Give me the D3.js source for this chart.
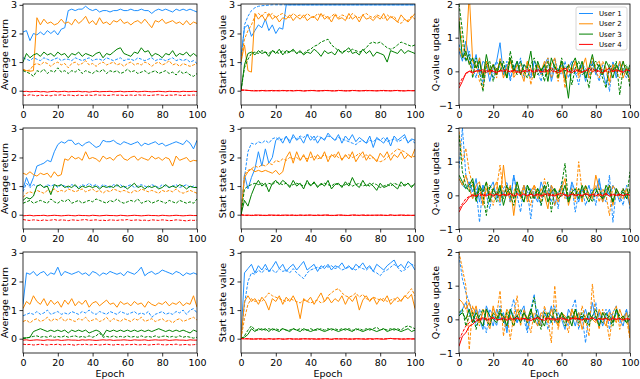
<!DOCTYPE html>
<html>
<head>
<meta charset="utf-8">
<script src="https://cdn.jsdelivr.net/npm/d3@7"></script>
<style>
body { margin: 0; background: #fff; }
text { font-family: "DejaVu Sans", sans-serif; }
</style>
</head>
<body>
<div id="chart"></div>
<script>
// epochs sampled every 2
var epochs = [0,2,4,6,8,10,12,14,16,18, 20,22,24,26,28,30,32,34,36,38, 40,42,44,46,48,50,52,54,56,58, 60,62,64,66,68,70,72,74,76,78, 80,82,84,86,88,90,92,94,96,98, 100];
var users = ['User 1', 'User 2', 'User 3', 'User 4'];
var userColors = ['#1e90ff', '#ff8c00', '#008000', '#ff0000'];

// ---- row 1 : average return ----
var ret1_u1 = [2.05,2.1,1.75,2.0,1.95,2.05,1.95,2.1,2.0,2.1, 1.95,2.15,2.2,2.8,2.85,2.8,2.85,2.85,2.95,2.85, 2.8,2.85,2.75,2.8,2.8,2.75,2.8,2.8,2.85,2.8, 2.8,2.85,2.8,2.8,2.85,2.8,2.8,2.7,2.8,2.85, 2.8,2.85,2.8,2.75,2.85,2.8,2.85,2.8,2.85,2.8, 2.75];
var ret1_u1d = [1.15,1.1,1.05,1.15,1.1,1.05,1.15,1.1,1.05,1.1, 1.15,1.05,1.1,1.1,1.05,1.15,1.1,1.05,1.1,1.15, 1.05,1.1,1.1,1.05,1.15,1.1,1.05,1.1,1.15,1.05, 1.1,1.1,1.05,1.15,1.1,1.05,1.1,1.15,1.05,1.1, 1.1,1.05,1.1,1.15,1.05,1.1,1.05,1.1,1.0,1.05, 0.95];
var ret1_u2 = [0.72,0.7,0.68,0.7,2.55,2.3,2.5,2.35,2.4,2.3, 2.35,2.5,2.35,2.4,2.3,2.5,2.35,2.45,2.6,2.35, 2.45,2.3,2.55,2.35,2.4,2.3,2.45,2.4,2.5,2.35, 2.4,2.3,2.4,2.45,2.35,2.5,2.35,2.2,2.45,2.4, 2.5,2.35,2.4,2.45,2.35,2.4,2.3,2.45,2.3,2.4, 2.35];
var ret1_u2d = [0.75,0.7,0.72,0.9,0.95,0.9,1.0,0.95,0.85,0.95, 1.0,0.9,0.95,0.8,0.95,1.0,0.9,0.95,1.05,0.9, 0.95,0.85,0.95,1.0,0.9,0.95,1.0,0.9,0.95,0.85, 0.95,1.0,0.9,0.95,0.9,1.0,0.95,0.85,0.95,1.0, 0.9,0.95,1.05,0.9,0.95,0.85,0.95,0.9,0.85,0.9, 0.95];
var ret1_u3 = [1.0,1.3,1.15,1.25,1.3,1.2,1.35,1.25,1.3,1.2, 1.35,1.25,1.3,1.15,1.3,1.25,1.35,1.2,1.3,1.25, 1.2,1.3,1.35,1.15,1.3,1.25,1.35,1.45,1.5,1.3, 1.25,1.2,1.35,1.3,1.5,1.35,1.4,1.2,1.3,1.25, 1.15,1.3,1.25,1.4,1.2,1.3,1.25,1.35,1.2,1.3, 1.2];
var ret1_u3d = [0.7,0.65,0.6,0.5,0.7,0.65,0.75,0.6,0.7,0.65, 0.8,0.65,0.7,0.6,0.7,0.65,0.75,0.6,0.7,0.65, 0.6,0.7,0.65,0.75,0.6,0.7,0.65,0.7,0.6,0.65, 0.75,0.65,0.7,0.6,0.65,0.7,0.6,0.65,0.7,0.6, 0.65,0.7,0.6,0.65,0.55,0.7,0.6,0.65,0.55,0.5, 0.6];
var ret1_u4 = [-0.03,-0.02,-0.04,-0.03,-0.02,-0.04,-0.03,-0.05,-0.03,-0.02, -0.04,-0.03,-0.02,-0.04,-0.03,-0.03,-0.02,-0.04,-0.03,-0.05, -0.03,-0.02,-0.04,-0.03,-0.03,-0.02,-0.04,-0.03,-0.02,-0.04, -0.03,-0.03,-0.02,-0.04,-0.03,-0.02,-0.03,-0.04,-0.03,-0.02, -0.03,-0.04,-0.02,-0.03,-0.03,-0.04,-0.02,-0.03,-0.03,-0.02, -0.03];
var ret1_u4d = [-0.15,-0.17,-0.14,-0.16,-0.18,-0.15,-0.17,-0.16,-0.18,-0.15, -0.16,-0.14,-0.17,-0.15,-0.16,-0.18,-0.15,-0.17,-0.16,-0.15, -0.17,-0.14,-0.16,-0.15,-0.17,-0.16,-0.14,-0.16,-0.15,-0.17, -0.16,-0.15,-0.17,-0.14,-0.16,-0.15,-0.17,-0.16,-0.15,-0.14, -0.16,-0.17,-0.15,-0.16,-0.14,-0.16,-0.17,-0.15,-0.16,-0.15, -0.16];

// ---- row 1 : start state value ----
var sv1_u1 = [1.2,2.2,2.3,1.9,2.1,2.3,2.2,2.5,2.1,2.3, 2.0,2.2,2.15,3.0,3.0,3.0,3.0,3.0,3.0,3.0, 3.0,3.0,3.0,3.0,3.0,3.0,3.0,3.0,3.0,3.0, 3.0,3.0,3.0,3.0,3.0,3.0,3.0,3.0,3.0,3.0, 3.0,3.0,3.0,3.0,3.0,3.0,3.0,3.0,3.0,3.0, 3.0];
var sv1_u1d = [0.9,2.3,2.6,2.8,2.9,2.95,2.97,2.98,2.99,3.0, 3.0,3.0,3.0,3.0,3.0,3.0,3.0,3.0,3.0,3.0, 3.0,3.0,3.0,3.0,3.0,3.0,3.0,3.0,3.0,3.0, 3.0,3.0,3.0,3.0,3.0,3.0,3.0,3.0,3.0,3.0, 3.0,3.0,3.0,3.0,3.0,3.0,3.0,3.0,3.0,3.0, 3.0];
var sv1_u2 = [1.0,1.6,0.7,0.65,2.7,2.5,2.65,2.45,2.7,2.5, 2.6,2.4,2.55,2.5,2.65,2.45,2.6,2.5,2.65,2.45, 2.55,2.6,2.45,2.7,2.5,2.6,2.4,2.65,2.5,2.55, 2.45,2.7,2.5,2.6,2.4,2.65,2.5,2.55,2.45,2.6, 2.5,2.7,2.45,2.6,2.5,2.4,2.65,2.5,2.4,2.55, 2.7];
var sv1_u2d = [1.1,1.8,2.1,2.3,2.6,2.7,2.6,2.75,2.6,2.7, 2.55,2.65,2.7,2.6,2.55,2.7,2.6,2.65,2.55,2.7, 2.6,2.55,2.7,2.6,2.65,2.5,2.6,2.7,2.55,2.65, 2.6,2.5,2.7,2.6,2.55,2.65,2.7,2.6,2.55,2.65, 2.6,2.5,2.65,2.55,2.6,2.4,2.35,2.5,2.45,2.6, 2.5];
var sv1_u3 = [0.0,0.9,1.3,1.35,1.25,1.4,1.3,1.35,1.2,1.4, 1.3,1.45,1.25,1.4,1.35,1.45,1.3,1.4,1.25,1.35, 1.3,1.45,1.35,1.2,1.4,1.3,1.35,1.25,1.45,1.3, 1.4,1.5,1.3,1.35,1.25,1.45,1.3,1.4,1.2,1.35, 1.3,1.25,1.0,1.4,1.35,1.3,1.45,1.3,1.4,1.35, 1.3];
var sv1_u3d = [0.0,0.8,1.1,1.3,1.35,1.3,1.4,1.35,1.3,1.4, 1.35,1.3,1.4,1.3,1.35,1.4,1.3,1.35,1.3,1.4, 1.45,1.55,1.6,1.7,1.75,1.8,1.6,1.5,1.4,1.35, 1.4,1.35,1.45,1.4,1.35,1.4,1.5,1.65,1.7,1.65, 1.7,1.6,1.5,1.45,1.5,1.6,1.7,1.65,1.6,1.55, 1.6];
var sv1_u4 = [0.03,0.02,0.01,0.0,-0.01,0.0,0.01,-0.01,0.0,0.01, 0.0,-0.01,0.01,0.0,0.0,-0.01,0.01,0.0,-0.01,0.0, 0.01,0.0,-0.01,0.0,0.01,0.0,0.0,-0.01,0.01,0.0, -0.01,0.0,0.01,0.0,-0.01,0.0,0.01,0.0,0.0,-0.01, 0.0,0.01,0.0,-0.01,0.0,0.01,0.0,-0.01,0.0,0.0, 0.0];
var sv1_u4d = [0.01,0.02,0.01,0.0,0.01,-0.01,0.0,0.01,0.0,-0.01, 0.0,0.01,0.0,-0.01,0.01,0.0,0.0,0.01,-0.01,0.0, 0.0,0.01,0.0,-0.01,0.0,0.01,-0.01,0.0,0.0,0.01, 0.0,-0.01,0.0,0.01,0.0,0.0,-0.01,0.01,0.0,0.0, 0.01,-0.01,0.0,0.0,0.01,0.0,-0.01,0.0,0.01,0.0, 0.0];

// ---- row 1 : Q-value update ----
var q1_u1 = [0.6,0.3,0.9,0.4,0.1,0.5,-0.1,0.3,0.2,-0.3, 0.1,0.3,0.85,-0.1,0.2,-0.2,0.1,0.3,-0.1,0.2, 0.0,-0.2,0.3,0.1,-0.1,0.2,0.4,-0.3,0.1,0.0, 0.2,-0.2,0.1,0.3,-0.1,0.0,0.2,-0.3,0.1,0.3, -0.1,0.2,0.0,-0.4,0.1,0.2,-0.2,0.3,0.0,0.1, -0.1];
var q1_u1d = [0.8,0.5,0.3,0.6,0.1,-0.2,0.4,-0.4,0.2,0.0, -0.2,0.3,0.1,-0.1,0.3,-0.3,0.2,0.0,0.4,-0.2, 0.1,-0.1,0.3,0.0,-0.3,0.2,0.1,-0.2,0.4,0.0, -0.1,0.3,-0.2,0.1,0.0,-0.4,0.2,0.1,-0.2,0.3, 0.0,-0.3,0.2,0.1,-0.6,0.3,-0.1,0.2,0.0,-0.2, 0.1];
var q1_u2 = [0.7,0.4,0.5,2.3,0.3,0.1,0.4,-0.2,0.3,-0.1, 0.2,0.0,0.3,-0.2,0.1,0.4,-0.1,0.2,0.0,-0.3, 0.3,0.1,-0.2,0.2,0.0,0.3,-0.1,0.2,0.4,-0.2, 0.1,-0.3,0.2,0.0,0.3,-0.1,0.1,0.4,-0.2,0.0, 0.2,0.3,-0.1,0.1,-0.3,0.2,0.0,0.3,-0.2,0.1, -0.3];
var q1_u2d = [1.6,0.8,0.4,0.3,-0.1,0.2,-0.3,-0.5,0.3,0.0, 0.2,-0.2,0.4,0.1,-0.1,0.3,-0.2,0.0,0.2,-0.1, 0.3,-0.4,0.1,0.2,-0.1,0.0,0.4,-0.2,0.1,-0.3, 0.3,-0.5,0.2,0.0,0.3,-0.2,0.1,0.0,-0.1,0.4, 0.0,-0.2,0.3,0.1,-0.4,0.2,0.0,-0.2,0.3,0.0, 0.1];
var q1_u3 = [1.5,0.4,0.6,0.2,0.4,0.1,0.3,-0.2,0.5,0.0, 0.2,-0.1,0.3,0.1,-0.2,0.4,0.0,0.3,-0.1,0.2, 0.1,0.6,-0.2,0.3,0.0,0.2,-0.3,0.4,0.1,0.0, 0.3,-0.1,-0.8,0.2,0.4,0.0,0.3,-0.2,0.1,0.5, 0.0,0.2,-0.1,0.3,0.1,-0.2,0.2,0.0,0.3,-0.1, 0.2];
var q1_u3d = [2.0,1.2,0.3,0.5,-0.2,0.4,0.0,-0.6,0.2,0.3, -0.3,0.1,0.0,0.3,-0.2,0.6,0.1,-0.1,0.3,0.0, -0.2,0.2,0.4,-0.1,0.1,-0.3,0.3,0.0,0.2,-0.2, 0.4,0.0,0.2,-0.4,0.1,0.3,-0.1,0.0,-0.5,0.2, 0.3,0.1,-0.2,-0.5,0.2,0.0,0.3,-0.7,0.1,0.2, -0.5];
var q1_u4 = [-0.5,-0.3,-0.05,0.0,-0.05,0.02,0.0,0.05,-0.03,0.02, 0.0,-0.05,0.03,0.0,0.05,-0.02,0.03,0.0,-0.05,0.02, 0.0,0.04,-0.03,0.05,0.0,-0.02,0.03,0.1,0.0,-0.04, 0.02,0.1,0.0,-0.05,0.05,0.0,-0.03,0.02,0.1,-0.02, 0.05,0.0,-0.05,0.03,0.1,-0.02,0.05,0.0,-0.03,0.05, 0.0];
var q1_u4d = [-0.4,-0.2,-0.1,0.02,-0.02,0.0,0.04,-0.03,0.02,0.0, 0.03,-0.02,0.0,0.05,-0.03,0.02,0.0,-0.04,0.03,0.0, 0.05,-0.02,0.02,0.0,-0.03,0.06,0.0,0.02,-0.02,0.04, 0.0,0.08,-0.03,0.02,0.0,0.05,-0.02,0.03,0.0,0.1, -0.03,0.02,0.06,0.0,-0.02,0.04,0.0,0.03,-0.02,0.05, 0.02];

// ---- row 2 : average return ----
var ret2_u1 = [0.9,1.3,1.0,1.3,1.7,1.75,1.8,1.9,1.85,2.2, 2.45,2.55,2.5,2.6,2.6,2.45,2.5,2.4,2.5,2.55, 2.45,2.35,2.4,2.6,2.55,2.55,2.6,2.5,2.45,2.55, 2.5,2.45,2.5,2.55,2.4,2.5,2.45,2.5,2.55,2.45, 2.5,2.4,2.45,2.5,2.55,2.5,2.45,2.6,2.5,2.3, 2.6];
var ret2_u1d = [0.8,1.1,0.95,1.05,1.0,1.05,0.95,1.05,1.0,1.05, 0.95,1.05,1.0,0.95,1.05,1.0,0.95,1.05,1.0,1.1, 1.0,1.05,0.95,1.05,1.0,0.95,1.05,1.0,1.05,0.95, 1.0,1.05,0.95,1.0,1.05,1.0,0.95,1.05,1.0,0.95, 1.05,1.0,0.95,1.0,1.05,0.95,1.0,1.05,0.95,1.0, 0.95];
var ret2_u2 = [1.45,1.4,1.5,1.4,1.35,1.45,1.4,1.45,1.3,1.5, 1.35,1.4,1.95,1.9,2.05,1.95,2.0,1.9,2.2,1.95, 2.0,1.95,1.85,2.05,1.95,2.0,1.9,2.05,2.1,1.95, 1.9,2.0,2.05,1.9,2.0,1.95,1.9,2.05,1.95,2.0, 1.9,2.0,1.95,1.7,2.05,1.9,1.95,2.0,1.85,1.9, 1.88];
var ret2_u2d = [0.6,0.75,0.8,0.75,0.85,0.8,0.75,0.85,0.8,0.9, 0.8,0.85,0.8,0.9,0.85,0.8,0.85,0.9,0.8,0.85, 0.9,0.8,0.85,0.75,0.85,0.8,0.9,0.85,0.8,0.85, 0.8,0.75,0.85,0.8,0.9,0.85,0.8,0.85,0.8,0.75, 0.85,0.8,0.85,0.8,0.9,0.8,0.75,0.8,0.85,0.8, 0.75];
var ret2_u3 = [0.5,0.6,0.55,0.65,1.0,1.05,0.95,1.0,0.7,1.05, 1.0,1.05,0.95,1.0,0.95,1.05,0.9,1.0,0.95,1.0, 0.95,1.0,0.9,1.0,0.95,1.0,0.95,1.05,0.95,1.0, 0.9,1.0,1.1,0.95,1.0,0.9,1.0,0.95,1.0,0.9, 0.95,1.05,0.95,1.0,0.95,1.05,1.0,0.9,1.0,0.95, 0.95];
var ret2_u3d = [0.4,0.45,0.5,0.4,0.45,0.5,0.45,0.4,0.55,0.45, 0.4,0.5,0.45,0.55,0.4,0.45,0.5,0.4,0.45,0.5, 0.45,0.55,0.5,0.45,0.4,0.5,0.45,0.55,0.45,0.4, 0.45,0.5,0.45,0.55,0.4,0.45,0.5,0.4,0.45,0.5, 0.45,0.4,0.5,0.45,0.4,0.5,0.45,0.4,0.45,0.4, 0.55];
var ret2_u4 = [-0.04,-0.03,-0.02,-0.04,-0.03,-0.03,-0.02,-0.04,-0.03,-0.02, -0.03,-0.04,-0.03,-0.02,-0.03,-0.04,-0.02,-0.03,-0.03,-0.04, -0.02,-0.03,-0.04,-0.03,-0.02,-0.03,-0.03,-0.04,-0.02,-0.03, -0.04,-0.03,-0.02,-0.03,-0.04,-0.03,-0.02,-0.03,-0.03,-0.04, -0.02,-0.03,-0.04,-0.03,-0.02,-0.03,-0.04,-0.03,-0.02,-0.03, -0.03];
var ret2_u4d = [-0.17,-0.19,-0.2,-0.18,-0.19,-0.21,-0.18,-0.2,-0.19,-0.17, -0.2,-0.18,-0.19,-0.21,-0.18,-0.19,-0.2,-0.18,-0.17,-0.2, -0.19,-0.18,-0.2,-0.19,-0.21,-0.18,-0.19,-0.2,-0.18,-0.19, -0.17,-0.2,-0.19,-0.18,-0.2,-0.19,-0.21,-0.18,-0.19,-0.2, -0.18,-0.19,-0.21,-0.2,-0.18,-0.19,-0.2,-0.22,-0.19,-0.2, -0.19];

// ---- row 2 : start state value ----
var sv2_u1 = [0.0,1.4,0.9,1.3,1.6,2.2,1.7,2.3,1.8,2.0, 2.6,2.7,2.5,2.75,2.5,2.8,2.6,2.7,2.5,2.8, 2.6,2.75,2.5,2.7,2.6,2.85,2.7,2.6,2.8,2.5, 2.75,2.6,2.8,2.55,2.7,2.6,2.5,2.75,2.35,2.7, 2.6,2.5,2.7,2.4,2.75,2.6,2.7,2.8,2.5,2.65, 2.6];
var sv2_u1d = [0.0,1.3,2.2,2.5,2.45,2.55,2.5,2.6,2.5,2.65, 2.7,2.6,2.65,2.7,2.6,2.7,2.65,2.75,2.7,2.8, 2.75,2.6,2.75,2.7,2.65,2.75,2.7,2.6,2.7,2.65, 2.6,2.55,2.5,2.45,2.55,2.6,2.5,2.6,2.55,2.65, 2.6,2.7,2.55,2.6,2.65,2.55,2.6,2.7,2.55,2.6, 2.5];
var sv2_u2 = [0.0,1.3,1.5,1.6,1.5,1.55,1.5,1.55,1.5,1.45, 1.55,1.4,1.5,2.0,2.2,1.8,2.2,1.9,2.1,1.85, 2.2,1.9,2.1,1.95,2.2,1.85,2.1,2.0,2.2,1.9, 2.1,1.95,2.2,1.85,2.05,2.2,1.9,2.1,2.0,1.85, 2.15,2.0,2.2,1.9,2.1,2.0,2.2,1.95,2.1,2.0, 2.3];
var sv2_u2d = [0.0,1.4,1.55,1.6,1.7,1.65,1.75,1.7,1.8,1.75, 1.9,1.85,1.95,1.9,2.0,1.95,2.0,1.9,2.05,1.95, 2.0,2.05,1.95,2.0,2.1,2.0,2.05,2.1,2.0,1.95, 2.05,2.1,2.0,2.05,2.15,2.0,2.1,1.95,2.0,1.9, 1.85,1.9,2.0,2.1,2.2,2.3,2.25,2.2,2.1,2.0, 2.05];
var sv2_u3 = [0.0,0.5,0.3,0.7,1.0,1.2,1.0,1.1,0.8,1.1, 1.2,1.05,1.2,1.1,0.95,1.2,1.0,1.1,0.9,1.2, 1.0,1.15,0.95,1.1,1.0,1.2,0.9,1.05,1.1,0.95, 1.15,1.0,1.3,1.05,0.95,1.2,1.0,1.1,1.0,0.85, 1.1,0.95,1.0,1.1,1.0,0.9,1.15,1.0,1.1,0.95, 1.1];
var sv2_u3d = [0.0,0.9,1.0,1.05,1.1,1.05,1.1,1.0,1.1,1.05, 1.15,1.1,1.05,1.1,1.0,1.05,1.1,1.05,1.0,1.1, 1.05,1.1,1.0,1.05,1.1,1.05,1.0,1.1,1.05,1.0, 1.05,1.1,1.0,1.05,1.1,1.0,1.05,1.0,1.1,1.05, 0.95,1.0,1.05,1.0,1.1,1.05,1.0,1.05,1.1,1.0, 1.05];
var sv2_u4 = [-0.01,-0.02,-0.01,-0.03,-0.02,-0.01,-0.02,-0.03,-0.02,-0.01, -0.02,-0.03,-0.02,-0.01,-0.02,-0.02,-0.03,-0.01,-0.02,-0.02, -0.01,-0.03,-0.02,-0.02,-0.01,-0.02,-0.03,-0.02,-0.01,-0.02, -0.02,-0.03,-0.01,-0.02,-0.02,-0.01,-0.03,-0.02,-0.02,-0.01, -0.02,-0.02,-0.03,-0.01,-0.02,-0.02,-0.01,-0.03,-0.02,-0.02, -0.02];
var sv2_u4d = [0.0,-0.02,-0.03,-0.02,-0.01,-0.03,-0.02,-0.02,-0.01,-0.03, -0.02,-0.01,-0.02,-0.03,-0.02,-0.01,-0.02,-0.02,-0.03,-0.01, -0.02,-0.02,-0.01,-0.03,-0.02,-0.01,-0.02,-0.03,-0.02,-0.01, -0.03,-0.02,-0.02,-0.01,-0.03,-0.02,-0.01,-0.02,-0.02,-0.03, -0.01,-0.02,-0.02,-0.01,-0.03,-0.02,-0.02,-0.01,-0.02,-0.03, -0.02];

// ---- row 2 : Q-value update ----
var q2_u1 = [0.5,0.3,0.2,0.4,0.1,0.5,-0.2,0.3,0.0,0.2, 0.4,-0.1,0.2,0.0,0.3,-0.2,0.6,0.1,0.0,0.3, -0.1,0.2,0.0,-0.2,0.4,0.1,0.0,0.3,-0.3,0.1, 0.2,0.0,-0.1,0.4,0.1,-0.2,0.2,0.0,0.3,-0.1, 0.1,0.5,-0.2,0.2,0.0,0.3,0.1,-0.2,0.2,0.0, -0.3];
var q2_u1d = [0.8,2.0,0.6,0.3,-0.1,0.2,-0.8,0.3,0.0,-0.4, 0.2,0.1,-0.3,0.2,0.4,-0.2,0.6,0.0,-0.5,0.3, 0.1,-0.7,0.2,0.0,-0.3,0.3,0.1,-0.2,0.2,-0.4, 0.4,0.0,-0.2,0.3,-0.5,0.1,0.2,-0.3,0.0,0.2, -0.3,0.4,0.0,-0.2,0.6,-0.8,0.2,0.0,-0.3,0.3, -0.4];
var q2_u2 = [0.5,0.3,0.6,0.2,-0.1,0.3,0.4,-0.3,0.2,0.0, 0.2,0.4,-0.2,0.9,0.0,0.3,-0.6,0.2,0.0,0.3, -0.2,0.1,0.3,-0.1,0.2,0.0,-0.4,0.3,0.1,-0.2, 0.2,0.5,-0.3,0.1,0.0,0.2,-0.2,0.3,0.0,-0.1, 0.6,0.2,-0.2,0.1,0.3,-0.3,0.2,0.0,-0.1,0.2, -0.3];
var q2_u2d = [1.9,1.0,1.4,0.7,0.3,0.0,0.2,-0.2,0.4,0.1, -0.3,0.2,0.9,0.0,0.3,-0.2,0.1,0.4,-0.1,0.2, 0.0,-0.3,0.3,0.1,-0.2,0.5,0.0,0.2,-0.3,0.1, 0.3,-0.1,0.0,0.2,-0.2,1.0,0.1,0.2,-0.1,0.0, 0.3,-0.2,0.2,0.0,-0.6,0.3,0.1,-0.1,0.2,0.0, 0.1];
var q2_u3 = [0.6,0.4,0.2,0.3,0.5,-0.1,0.3,0.1,0.4,-0.2, 0.2,0.0,0.3,-0.3,0.1,0.2,-0.1,0.4,0.0,-0.2, 0.3,0.1,-0.1,0.2,0.0,0.3,-0.2,0.1,0.2,-0.1, 0.0,0.3,-0.2,0.1,0.2,-0.1,0.3,0.0,-0.2,0.1, 0.2,0.0,-0.1,0.3,0.1,-0.2,0.2,0.0,0.1,-0.1, 0.2];
var q2_u3d = [1.8,0.7,0.3,0.1,0.4,-0.2,0.2,0.0,-0.6,0.3, 0.1,-0.2,0.2,-0.1,0.3,0.0,-0.3,0.2,0.1,-0.2, 0.3,-0.1,0.0,0.2,-0.3,0.1,0.4,-0.5,0.2,0.0, 0.3,0.95,-0.2,0.1,0.0,0.2,-0.1,0.3,0.0,-0.2, 0.1,0.2,-0.1,0.0,0.3,-0.2,0.1,0.0,0.2,-0.1, 0.7];
var q2_u4 = [-0.5,-0.3,-0.2,-0.05,0.0,-0.03,0.05,0.0,-0.02,0.05, 0.0,0.03,-0.02,0.04,0.0,0.06,-0.03,0.02,0.0,0.05, -0.02,0.03,0.0,0.04,-0.03,0.02,0.05,0.0,-0.02,0.03, 0.06,0.0,-0.03,0.04,0.0,0.02,-0.02,0.05,0.0,0.03, -0.02,0.04,0.0,0.06,-0.03,0.02,0.0,0.04,-0.02,0.03, 0.0];
var q2_u4d = [-0.4,-0.25,-0.1,-0.03,0.02,0.0,-0.02,0.04,0.0,0.02, -0.03,0.05,0.0,0.02,-0.02,0.04,0.0,0.06,-0.02,0.02, 0.0,0.04,-0.03,0.02,0.0,0.05,-0.02,0.03,0.0,0.04, -0.02,0.02,0.0,0.05,-0.03,0.03,0.0,0.04,-0.02,0.02, 0.05,0.0,-0.02,0.03,0.0,0.05,-0.02,0.02,0.0,0.03, 0.02];

// ---- row 3 : average return ----
var ret3_u1 = [1.2,2.3,2.25,2.35,2.2,2.3,2.35,2.2,2.3,2.25, 2.5,2.2,2.35,2.3,2.25,2.3,2.35,2.25,2.3,2.2, 2.35,2.3,2.2,2.3,2.25,2.35,2.3,2.25,2.3,2.2, 2.35,2.3,2.25,2.35,2.5,2.2,2.3,2.35,2.25,2.3, 2.4,2.35,2.3,2.25,2.35,2.3,2.2,2.3,2.25,2.3, 2.25];
var ret3_u1d = [0.8,0.85,0.9,0.85,0.95,0.85,0.9,1.0,0.85,0.9, 0.95,0.85,0.9,0.85,0.95,0.9,0.85,0.95,0.9,1.0, 0.9,0.85,0.95,0.9,0.85,0.95,0.9,0.85,0.95,0.9, 0.85,0.9,0.95,0.85,0.9,0.85,0.95,0.75,0.85,0.9, 0.95,0.85,0.9,0.85,0.95,0.9,1.0,0.85,1.0,1.05, 0.9];
var ret3_u2 = [1.05,1.3,1.2,1.5,1.3,1.2,1.4,1.15,1.35,1.2, 1.3,1.1,1.35,1.2,1.4,1.15,1.3,1.2,1.35,1.1, 1.25,1.3,1.15,1.25,1.35,1.2,1.25,1.1,1.3,1.2, 1.25,1.15,1.3,1.2,1.25,1.1,1.3,1.2,1.15,1.25, 1.2,1.3,1.15,1.25,1.2,1.3,1.15,1.25,1.2,1.5, 1.1];
var ret3_u2d = [0.6,0.65,0.55,0.65,0.7,0.6,0.65,0.75,0.6,0.7, 0.65,0.75,0.6,0.7,0.65,0.6,0.7,0.65,0.75,0.6, 0.65,0.7,0.6,0.65,0.75,0.6,0.7,0.65,0.6,0.7, 0.65,0.6,0.7,0.65,0.75,0.6,0.65,0.7,0.6,0.65, 0.7,0.6,0.65,0.55,0.65,0.7,0.6,0.65,0.7,0.75, 0.65];
var ret3_u3 = [0.03,0.03,0.05,0.25,0.3,0.35,0.3,0.25,0.3,0.25, 0.3,0.25,0.3,0.2,0.3,0.25,0.3,0.25,0.3,0.2, 0.25,0.3,0.25,0.1,0.3,0.25,0.3,0.25,0.3,0.25, 0.3,0.25,0.3,0.25,0.3,0.25,0.3,0.25,0.3,0.35, 0.3,0.25,0.3,0.25,0.3,0.25,0.3,0.25,0.2,0.3, 0.25];
var ret3_u3d = [0.0,0.02,0.05,0.08,0.1,0.05,0.08,0.05,0.1,0.05, 0.08,0.05,0.1,0.05,0.08,0.1,0.05,0.08,0.05,0.1, 0.05,0.1,0.2,0.05,0.08,0.05,0.1,0.05,0.08,0.05, 0.1,0.05,0.08,0.05,0.1,0.05,0.08,0.05,0.1,0.05, 0.08,0.1,0.05,0.08,0.05,0.1,0.05,0.08,0.05,0.02, 0.05];
var ret3_u4 = [-0.05,-0.04,-0.06,-0.05,-0.04,-0.05,-0.06,-0.04,-0.05,-0.05, -0.04,-0.06,-0.05,-0.04,-0.05,-0.05,-0.06,-0.04,-0.05,-0.04, -0.05,-0.06,-0.05,-0.04,-0.05,-0.04,-0.06,-0.05,-0.05,-0.04, -0.05,-0.06,-0.04,-0.05,-0.05,-0.04,-0.06,-0.05,-0.04,-0.05, -0.05,-0.04,-0.06,-0.05,-0.04,-0.05,-0.05,-0.06,-0.04,-0.05, -0.05];
var ret3_u4d = [-0.19,-0.21,-0.2,-0.22,-0.21,-0.19,-0.21,-0.22,-0.2,-0.21, -0.19,-0.22,-0.21,-0.2,-0.21,-0.23,-0.2,-0.21,-0.19,-0.22, -0.21,-0.2,-0.22,-0.21,-0.19,-0.21,-0.22,-0.2,-0.21,-0.22, -0.2,-0.21,-0.19,-0.22,-0.21,-0.2,-0.22,-0.21,-0.2,-0.19, -0.21,-0.22,-0.2,-0.21,-0.19,-0.22,-0.21,-0.2,-0.22,-0.21, -0.2];

// ---- row 3 : start state value ----
var sv3_u1 = [0.0,2.3,2.45,2.6,2.3,2.55,2.4,2.6,2.35,2.5, 2.7,2.45,2.6,2.35,2.5,2.6,2.4,2.55,2.7,2.4, 2.5,2.6,2.35,2.55,2.45,2.6,2.4,2.55,2.5,2.65, 2.45,2.55,2.4,2.6,2.5,2.65,2.45,2.55,2.35,2.6, 2.5,2.4,2.55,2.65,2.75,2.5,2.6,2.45,2.7,2.6, 2.4];
var sv3_u1d = [0.0,1.2,2.0,2.3,2.25,2.4,2.3,2.45,2.35,2.4, 2.3,2.45,2.35,2.4,2.3,2.45,2.3,2.2,2.1,2.3, 2.4,2.45,2.5,2.45,2.55,2.5,2.55,2.45,2.5,2.4, 2.45,2.5,2.45,2.4,2.5,2.45,2.4,2.5,2.35,2.3, 2.2,2.35,2.4,2.5,2.6,2.5,2.35,2.4,2.5,2.6, 2.55];
var sv3_u2 = [0.0,1.3,1.5,1.3,1.4,1.2,1.45,1.3,1.0,1.4, 1.3,1.5,1.2,1.45,1.3,1.5,1.25,0.7,1.4,1.3, 1.45,1.2,1.4,1.6,1.3,1.45,1.25,1.4,1.3,1.5, 1.2,1.45,1.3,1.5,1.0,1.35,1.5,1.3,1.45,1.2, 1.4,1.3,1.5,1.2,1.35,1.45,1.3,1.5,1.4,1.55, 1.05];
var sv3_u2d = [0.0,0.7,1.2,1.4,1.3,1.35,1.3,1.45,1.6,1.5, 1.45,1.4,1.35,1.3,1.4,1.35,1.3,1.25,1.35,1.3, 1.25,1.3,1.35,1.25,1.3,1.5,1.6,1.7,1.75,1.6, 1.5,1.45,1.5,1.6,1.45,1.55,1.4,1.35,1.45,1.4, 1.35,1.4,1.3,1.35,1.4,1.3,1.35,1.45,1.6,1.75, 1.5];
var sv3_u3 = [0.0,0.05,0.15,0.35,0.25,0.35,0.3,0.35,0.25,0.35, 0.3,0.25,0.35,0.3,0.25,0.35,0.3,0.25,0.35,0.3, 0.25,0.3,0.35,0.3,0.25,0.3,0.35,0.3,0.25,0.3, 0.35,0.3,0.25,0.35,0.3,0.25,0.3,0.35,0.3,0.25, 0.3,0.35,0.25,0.3,0.35,0.3,0.25,0.3,0.35,0.25, 0.3];
var sv3_u3d = [0.0,0.1,0.3,0.45,0.3,0.3,0.35,0.3,0.35,0.3, 0.35,0.3,0.35,0.3,0.3,0.35,0.3,0.35,0.3,0.3, 0.35,0.3,0.3,0.35,0.3,0.35,0.3,0.35,0.3,0.35, 0.3,0.35,0.3,0.3,0.35,0.3,0.35,0.3,0.35,0.4, 0.3,0.35,0.3,0.35,0.3,0.35,0.3,0.4,0.45,0.4, 0.35];
var sv3_u4 = [0.0,-0.01,0.0,-0.02,-0.01,0.0,-0.01,-0.02,0.0,-0.01, -0.01,0.0,-0.02,-0.01,0.0,-0.01,-0.01,-0.02,0.0,-0.01, 0.0,-0.01,-0.02,-0.01,0.0,-0.01,-0.02,0.0,-0.01,-0.01, 0.0,-0.02,-0.01,0.0,-0.01,-0.01,-0.02,0.0,-0.01,0.0, -0.01,-0.02,0.0,0.01,-0.01,0.0,-0.01,-0.02,0.0,-0.01, -0.01];
var sv3_u4d = [0.0,0.01,-0.01,0.0,-0.01,-0.02,0.0,-0.01,0.0,-0.02, -0.01,0.0,-0.01,-0.01,0.0,-0.02,-0.01,0.0,-0.01,0.0, -0.02,-0.01,0.0,-0.01,-0.01,0.0,-0.02,-0.01,0.0,-0.01, -0.01,0.0,-0.02,-0.01,0.0,-0.01,0.0,-0.01,-0.02,0.0, -0.01,0.0,-0.01,0.01,0.0,-0.01,-0.02,0.0,-0.01,-0.01, 0.0];

// ---- row 3 : Q-value update ----
var q3_u1 = [0.1,0.3,0.5,0.2,-0.1,0.3,0.0,-0.3,0.4,0.1, -0.2,0.3,0.0,0.2,-0.4,0.3,0.1,-0.1,0.2,0.4, -0.3,0.1,0.0,0.3,-0.2,0.2,0.0,0.4,-0.1,0.2, 0.0,-0.3,0.3,0.1,-0.2,0.2,0.0,0.3,-0.1,0.5, 0.0,0.2,-0.2,0.1,0.3,-0.1,0.2,0.0,-0.2,0.3, -0.4];
var q3_u1d = [1.9,1.2,0.8,0.5,0.2,-0.2,0.3,0.0,-0.4,0.3, 0.1,-0.2,0.4,0.0,-0.3,0.2,0.6,-0.1,0.2,0.0, -0.4,0.3,0.75,-0.2,0.1,0.3,-0.3,0.0,0.4,-0.1, 0.2,0.0,-0.2,0.3,0.6,-0.3,0.1,-0.7,0.2,0.0, 0.5,-0.2,0.1,0.3,-0.3,0.2,0.4,-0.1,0.0,0.3, -0.5];
var q3_u2 = [0.6,0.5,0.3,0.5,0.1,0.4,-0.1,0.2,0.3,-0.2, 0.4,0.0,0.2,-0.1,0.3,0.1,-0.2,0.3,0.0,0.2, -0.1,0.3,0.0,-0.2,0.2,0.1,-0.1,0.3,0.0,-0.2, 0.2,0.1,-0.1,0.3,0.0,0.2,-0.3,0.1,0.2,0.0, -0.1,0.3,0.0,-0.2,0.2,0.1,-0.1,0.3,0.0,0.2, -0.5];
var q3_u2d = [2.0,1.5,1.0,-0.9,0.4,0.1,-0.2,0.3,0.0,-0.3, 0.3,0.1,0.85,-0.5,0.2,-0.6,0.1,0.7,-0.2,0.3, 0.0,-0.4,0.2,0.1,-0.2,0.4,0.0,-0.7,1.0,-0.3, 0.2,0.0,-0.4,0.3,0.1,-0.2,0.4,0.0,-0.5,1.05, 0.1,-0.3,0.3,0.0,-0.6,0.2,0.4,-0.3,0.1,0.0, -0.6];
var q3_u3 = [0.1,0.2,0.0,0.3,-0.1,0.2,0.0,-0.2,0.3,0.1, 0.0,-0.1,0.2,0.1,-0.2,0.3,0.0,0.1,-0.1,0.2, 0.0,0.3,-0.1,0.1,0.0,-0.2,0.2,0.1,0.0,-0.1, 0.2,0.0,0.1,-0.2,0.3,0.0,0.1,-0.1,0.2,0.0, 0.1,-0.2,0.2,0.0,0.1,-0.1,0.3,0.0,0.1,-0.1, 0.0];
var q3_u3d = [0.2,0.3,-0.2,0.1,0.2,-0.3,0.1,0.3,0.0,-0.2, 0.2,0.0,0.3,-0.1,0.2,0.0,-0.2,0.1,0.3,0.0, -0.1,0.2,0.65,0.0,-0.3,0.2,0.1,-0.1,0.3,0.0, 0.2,-0.2,0.1,0.0,0.3,-0.1,0.2,0.0,-0.2,0.1, 0.3,0.0,-0.1,0.2,0.0,-0.2,0.3,0.1,0.0,-0.1, 0.2];
var q3_u4 = [-0.8,-0.5,-0.4,-0.2,-0.15,-0.05,0.0,0.05,-0.03,0.02, 0.06,-0.02,0.0,0.04,-0.03,0.02,0.0,0.05,-0.02,0.03, 0.0,-0.04,0.02,0.05,0.0,-0.03,0.04,0.0,0.02,-0.02, 0.05,0.0,-0.03,0.02,0.04,0.0,-0.02,0.03,0.0,0.05, -0.02,0.02,0.0,0.04,-0.03,0.02,0.0,0.03,-0.02,0.02, 0.0];
var q3_u4d = [-0.6,-0.4,-0.2,-0.1,-0.02,0.02,-0.03,0.0,0.03,-0.02, 0.04,0.0,-0.02,0.03,0.0,0.05,-0.02,0.02,0.0,0.04, -0.03,0.02,0.0,0.05,-0.02,0.03,0.0,0.02,-0.03,0.04, 0.0,0.02,-0.02,0.05,0.0,0.03,-0.02,0.02,0.0,0.04, -0.02,0.03,0.0,0.02,-0.03,0.05,0.0,0.02,-0.02,0.03, 0.0];

var retDomain = [-0.5, 3.03], qDomain = [-1, 2];

var panels = [
  {row: 0, col: 0, label: 'Average return', dom: retDomain, ticks: [0,1,2,3], series: [ret1_u1, ret1_u1d, ret1_u2, ret1_u2d, ret1_u3, ret1_u3d, ret1_u4, ret1_u4d]},
  {row: 0, col: 1, label: 'Start state value', dom: retDomain, ticks: [0,1,2,3], series: [sv1_u1, sv1_u1d, sv1_u2, sv1_u2d, sv1_u3, sv1_u3d, sv1_u4, sv1_u4d]},
  {row: 0, col: 2, label: 'Q-value update', dom: qDomain, ticks: [-1,0,1,2], series: [q1_u1, q1_u1d, q1_u2, q1_u2d, q1_u3, q1_u3d, q1_u4, q1_u4d], legend: true},
  {row: 1, col: 0, label: 'Average return', dom: retDomain, ticks: [0,1,2,3], series: [ret2_u1, ret2_u1d, ret2_u2, ret2_u2d, ret2_u3, ret2_u3d, ret2_u4, ret2_u4d]},
  {row: 1, col: 1, label: 'Start state value', dom: retDomain, ticks: [0,1,2,3], series: [sv2_u1, sv2_u1d, sv2_u2, sv2_u2d, sv2_u3, sv2_u3d, sv2_u4, sv2_u4d]},
  {row: 1, col: 2, label: 'Q-value update', dom: qDomain, ticks: [-1,0,1,2], series: [q2_u1, q2_u1d, q2_u2, q2_u2d, q2_u3, q2_u3d, q2_u4, q2_u4d]},
  {row: 2, col: 0, label: 'Average return', dom: retDomain, ticks: [0,1,2,3], series: [ret3_u1, ret3_u1d, ret3_u2, ret3_u2d, ret3_u3, ret3_u3d, ret3_u4, ret3_u4d]},
  {row: 2, col: 1, label: 'Start state value', dom: retDomain, ticks: [0,1,2,3], series: [sv3_u1, sv3_u1d, sv3_u2, sv3_u2d, sv3_u3, sv3_u3d, sv3_u4, sv3_u4d]},
  {row: 2, col: 2, label: 'Q-value update', dom: qDomain, ticks: [-1,0,1,2], series: [q3_u1, q3_u1d, q3_u2, q3_u2d, q3_u3, q3_u3d, q3_u4, q3_u4d]}
];

var width = 640, height = 379;
var colX = [23, 241, 459], rowY = [4, 128, 252];
var colW = [174, 174, 171], ph = 101;
var fontSize = 9.5;

var svg = d3.select('#chart').append('svg')
  .attr('width', width)
  .attr('height', height);

panels.forEach(function(p, i) {
  var pw = colW[p.col];
  var g = svg.append('g').attr('transform', `translate(${colX[p.col]},${rowY[p.row]})`);
  var x = d3.scaleLinear().domain([0, 100]).range([0, pw]);
  var y = d3.scaleLinear().domain(p.dom).range([ph, 0]);

  g.append('clipPath').attr('id', 'clip' + i)
    .append('rect').attr('width', pw).attr('height', ph);

  var line = d3.line()
    .x((d, k) => x(epochs[k]))
    .y(d => y(d));

  var plot = g.append('g').attr('clip-path', `url(#clip${i})`);
  p.series.forEach(function(s, k) {
    plot.append('path')
      .datum(s)
      .attr('d', line)
      .attr('fill', 'none')
      .attr('stroke', userColors[Math.floor(k / 2)])
      .attr('stroke-width', 1)
      .attr('stroke-dasharray', k % 2 ? '3,1.5' : null)
      .attr('stroke-linejoin', 'round');
  });

  // x axis
  var xa = g.append('g')
    .attr('transform', `translate(0,${ph})`)
    .call(d3.axisBottom(x).tickValues([0,20,40,60,80,100]).tickSize(3.5).tickPadding(2.5).tickSizeOuter(0));
  // y axis
  var ya = g.append('g')
    .call(d3.axisLeft(y).tickValues(p.ticks).tickFormat(d3.format('d')).tickSize(3.5).tickPadding(2.5).tickSizeOuter(0));
  [xa, ya].forEach(function(a) {
    a.select('.domain').remove();
    a.selectAll('text').style('font-size', fontSize + 'px').attr('fill', '#000');
    a.selectAll('line').attr('stroke', '#000').attr('stroke-width', 0.8);
  });

  // frame
  g.append('rect')
    .attr('width', pw).attr('height', ph)
    .attr('fill', 'none').attr('stroke', '#000').attr('stroke-width', 0.8);

  // y label
  var lx = p.col === 2 ? -20 : -15;
  g.append('text')
    .attr('transform', `translate(${lx},${ph / 2}) rotate(-90)`)
    .attr('text-anchor', 'middle')
    .style('font-size', fontSize + 'px')
    .text(p.label);

  if (p.row === 2) {
    g.append('text')
      .attr('x', pw / 2).attr('y', ph + 24)
      .attr('text-anchor', 'middle')
      .style('font-size', fontSize + 'px')
      .text('Epoch');
  }

  if (p.legend) {
    var lg = g.append('g').attr('transform', `translate(${pw - 54},3)`);
    lg.append('rect')
      .attr('width', 51).attr('height', 43).attr('rx', 2)
      .attr('fill', '#fff').attr('fill-opacity', 0.8)
      .attr('stroke', '#ccc').attr('stroke-width', 0.8);
    users.forEach(function(u, k) {
      var yy = 6.5 + k * 10.3;
      lg.append('line')
        .attr('x1', 3).attr('x2', 17).attr('y1', yy).attr('y2', yy)
        .attr('stroke', userColors[k]).attr('stroke-width', 1);
      lg.append('text')
        .attr('x', 23).attr('y', yy + 2.5)
        .style('font-size', '7px')
        .text(u);
    });
  }
});
</script>
</body>
</html>
